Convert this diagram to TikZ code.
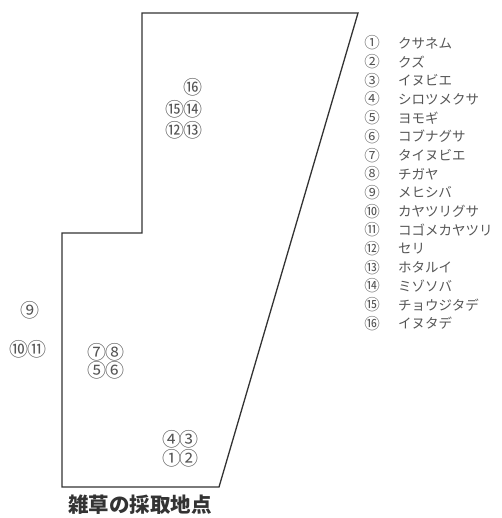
\documentclass[tikz,border=0pt]{standalone}
\usepackage{fontspec}
\newfontfamily\cjk{Noto Sans CJK JP}
\definecolor{ink}{HTML}{333333}
\definecolor{txt}{HTML}{555555}
\tikzset{
  num/.style={font=\cjk\fontsize{19}{19}\selectfont, text=txt, inner sep=0pt},
  legnum/.style={font=\cjk\fontsize{15.5}{16}\selectfont, text=txt, inner sep=0pt},
  legtxt/.style={font=\cjk\fontsize{13.5}{14}\selectfont, text=txt, inner sep=0pt, anchor=west},
  field/.style={draw=ink, line width=1.3pt, line join=miter}
}
\begin{document}
\begin{tikzpicture}[x=1pt,y=-1pt]
\useasboundingbox (0,0) rectangle (501,518);
% field outline
\coordinate (tl) at (142,13);
\coordinate (tr) at (358,13);
\coordinate (br) at (219,487);
\coordinate (bl) at (62,487);
\coordinate (sl) at (62,233);
\coordinate (sr) at (142,233);
\draw[field] (tl) -- (tr) -- (br) -- (bl) -- (sl) -- (sr) -- cycle;
% points
\node[num] (n16) at (193,87) {⑯};
\node[num] (n15) at (175,109) {⑮};
\node[num] (n14) at (193,109) {⑭};
\node[num] (n12) at (175,130) {⑫};
\node[num] (n13) at (193,130) {⑬};
\node[num] (n9) at (30,310) {⑨};
\node[num] (n10) at (19,349) {⑩};
\node[num] (n11) at (37,349) {⑪};
\node[num] (n7) at (97,352) {⑦};
\node[num] (n8) at (115,352) {⑧};
\node[num] (n5) at (97,370) {⑤};
\node[num] (n6) at (115,370) {⑥};
\node[num] (n4) at (172,439) {④};
\node[num] (n3) at (189,439) {③};
\node[num] (n1) at (172,458) {①};
\node[num] (n2) at (189,458) {②};
% caption
\node[font=\cjk\fontsize{20.5}{21}\selectfont\bfseries, text=ink, inner sep=0pt] (cap) at (140,505) {雑草の採取地点};
% legend
\foreach \n/\s [count=\i from 0] in {①/クサネム,②/クズ,③/イヌビエ,④/シロツメクサ,⑤/ヨモギ,⑥/コブナグサ,⑦/タイヌビエ,⑧/チガヤ,⑨/メヒシバ,⑩/カヤツリグサ,⑪/コゴメカヤツリ,⑫/セリ,⑬/ホタルイ,⑭/ミゾソバ,⑮/チョウジタデ,⑯/イヌタデ}{
  \node[legnum] (l\i) at (372,{43+\i*18.7}) {\n};
  \node[legtxt] (t\i) at (398,{43+\i*18.7}) {\s};
}
\end{tikzpicture}
\end{document}
